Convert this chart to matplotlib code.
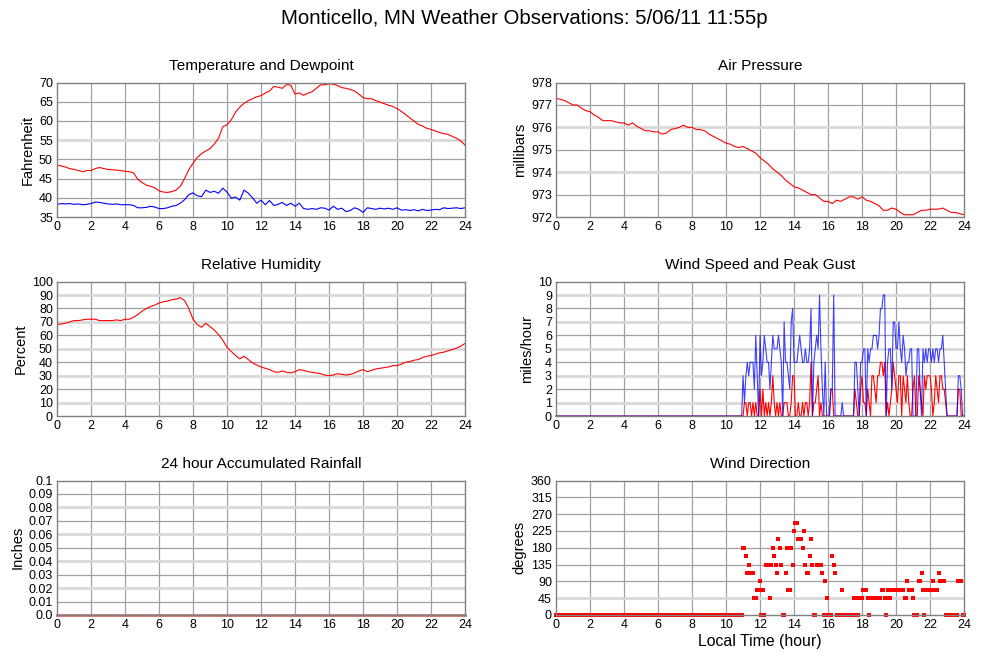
import numpy as np
import matplotlib
matplotlib.use("Agg")
import matplotlib.pyplot as plt

plt.rcParams['font.family'] = ['Liberation Sans', 'DejaVu Sans']

# temperature / dewpoint / pressure / humidity, every 15 minutes from 0 to 24 h
temp_f = [48.5, 48.3, 48.0, 47.6, 47.4, 47.1, 46.8, 47.1, 47.1, 47.6, 47.9, 47.6,
          47.4, 47.3, 47.2, 47.1, 46.9, 46.8, 46.5, 44.8, 44.0, 43.3, 43.0, 42.6,
          41.8, 41.5, 41.4, 41.6, 42.0, 43.0, 45.0, 47.3, 49.0, 50.5, 51.5, 52.2,
          52.8, 54.0, 55.5, 58.5, 59.0, 60.3, 62.3, 63.6, 64.6, 65.3, 65.8, 66.3,
          66.6, 67.3, 67.8, 69.0, 68.8, 68.5, 69.5, 69.3, 67.0, 67.3, 66.7, 67.2,
          67.6, 68.5, 69.4, 69.4, 69.7, 69.6, 69.2, 68.7, 68.5, 68.2, 67.8, 67.0,
          66.1, 65.8, 65.8, 65.3, 64.9, 64.5, 64.1, 63.8, 63.2, 62.5, 61.7, 60.8,
          60.0, 59.1, 58.7, 58.1, 57.8, 57.4, 57.0, 56.7, 56.5, 56.0, 55.5, 54.8,
          53.7]
dewpoint_f = [38.3, 38.5, 38.4, 38.5, 38.3, 38.4, 38.2, 38.3, 38.5, 38.9, 38.8, 38.6,
              38.4, 38.3, 38.4, 38.2, 38.2, 38.2, 38.0, 37.4, 37.4, 37.5, 37.8, 37.6,
              37.2, 37.2, 37.4, 37.8, 38.0, 38.6, 39.5, 40.8, 41.3, 40.5, 40.3, 42.0,
              41.4, 41.7, 41.2, 42.5, 41.5, 39.9, 40.2, 39.4, 42.0, 41.2, 40.0, 38.6,
              39.4, 38.2, 39.3, 38.0, 38.3, 38.8, 38.0, 38.6, 37.8, 38.6, 37.2, 37.0,
              37.2, 37.0, 37.4, 37.3, 36.8, 37.8, 37.0, 37.3, 36.4, 36.7, 37.4, 37.0,
              36.2, 37.4, 37.2, 37.0, 37.3, 37.1, 37.3, 37.0, 37.4, 36.8, 36.9, 36.7,
              36.9, 36.6, 37.0, 36.7, 36.8, 37.0, 36.9, 37.4, 37.2, 37.3, 37.4, 37.2,
              37.4]
pressure_mb = [977.3, 977.25, 977.2, 977.1, 977.0, 977.0, 976.85, 976.75, 976.7, 976.55,
               976.45, 976.3, 976.3, 976.3, 976.25, 976.2, 976.2, 976.1, 976.2, 976.05,
               975.95, 975.85, 975.85, 975.8, 975.8, 975.7, 975.75, 975.9, 975.95, 976.0,
               976.1, 976.0, 976.0, 975.9, 975.9, 975.85, 975.7, 975.6, 975.5, 975.4,
               975.3, 975.25, 975.15, 975.1, 975.15, 975.05, 974.95, 974.85, 974.65, 974.5,
               974.35, 974.15, 974.0, 973.85, 973.65, 973.5, 973.35, 973.3, 973.2, 973.1,
               973.0, 973.0, 972.85, 972.7, 972.7, 972.6, 972.75, 972.7, 972.8, 972.9,
               972.9, 972.8, 972.9, 972.75, 972.7, 972.6, 972.5, 972.3, 972.3, 972.4,
               972.35, 972.2, 972.1, 972.1, 972.1, 972.2, 972.3, 972.3, 972.35, 972.35,
               972.35, 972.4, 972.3, 972.2, 972.2, 972.15, 972.1]
humidity_pct = [68, 68.5, 69, 70, 71, 71, 71.5, 72, 72, 72, 71, 71,
                71, 71, 71.5, 71, 72, 72, 73.5, 75.5, 78, 80, 81.5, 82.5,
                84, 85, 85.5, 86.5, 87, 88, 86, 80, 72, 68, 66, 69,
                66.5, 64, 60.5, 56.5, 51, 48, 45, 42.5, 44.5, 42, 39.5, 38,
                36.5, 35.5, 34.5, 33, 32.5, 33.5, 32.5, 32, 33, 34.5, 34, 33,
                32.5, 32, 31.5, 30.5, 30, 30.5, 31.5, 31, 30.5, 31, 32, 33.5,
                34.5, 33, 34, 35, 35.5, 36, 36.5, 37.5, 37.5, 38.5, 40, 40.5,
                41.5, 42, 43.5, 44.5, 45, 46, 47, 47.5, 48.5, 49.5, 50.5, 52,
                54]

# rainfall, hourly
rain_in = [0.0] * 25

# wind, every 5 minutes; calm (0) until 11:00, values below from 11:00 to 24:00
calm_samples = 132
gust_mph = [3, 1, 3, 4, 3, 4, 4, 4, 2, 6, 3, 0,
            6, 3, 4, 6, 5, 4, 4, 2, 4, 6, 5, 5,
            5, 6, 5, 4, 0, 7, 4, 4, 3, 2, 7, 8,
            4, 4, 4, 5, 6, 5, 4, 4, 5, 4, 4, 5,
            8, 0, 4, 5, 6, 5, 9, 5, 2, 0, 4, 0,
            0, 0, 2, 2, 9, 0, 0, 0, 0, 0, 1, 0,
            0, 0, 0, 0, 0, 0, 0, 4, 4, 2, 0, 4,
            4, 5, 5, 0, 5, 4, 5, 5, 6, 6, 6, 5,
            6, 8, 8, 9, 9, 0, 4, 5, 5, 2, 7, 7,
            5, 5, 7, 5, 4, 6, 5, 3, 4, 4, 5, 5,
            0, 0, 0, 5, 5, 2, 0, 5, 4, 5, 4, 5,
            5, 4, 5, 4, 5, 5, 4, 5, 5, 6, 4, 2,
            0, 0, 0, 0, 0, 0, 0, 0, 3, 3, 2, 0,
            0]
speed_mph = [0, 1, 1, 0, 1, 1, 0, 1, 0, 1, 0, 0,
             2, 0, 2, 0, 1, 0, 1, 0, 1, 3, 1, 0,
             1, 0, 1, 0, 0, 1, 1, 1, 0, 0, 1, 3,
             3, 0, 0, 1, 0, 0, 1, 0, 1, 1, 0, 1,
             4, 0, 1, 1, 2, 3, 0, 1, 0, 0, 0, 0,
             0, 0, 2, 2, 0, 0, 0, 0, 0, 0, 0, 0,
             0, 0, 0, 0, 0, 0, 0, 2, 1, 0, 0, 2,
             3, 1, 1, 0, 2, 1, 0, 3, 3, 2, 1, 3,
             3, 4, 4, 3, 4, 0, 1, 0, 1, 2, 4, 3,
             2, 1, 3, 3, 0, 3, 2, 1, 3, 1, 0, 0,
             2, 3, 0, 0, 3, 2, 1, 0, 3, 2, 3, 3,
             3, 2, 0, 1, 3, 2, 1, 3, 3, 2, 2, 1,
             0, 0, 0, 0, 0, 0, 0, 0, 2, 2, 0, 0,
             0]
direction_deg = [180, 180, 157.5, 112.5, 135, 112.5, 112.5, 112.5, 45, 45, 67.5, 67.5,
                 90, 0, 67.5, 0, 135, 135, 135, 45, 135, 180, 157.5, 135,
                 112.5, 202.5, 180, 135, 0, 0, 112.5, 180, 67.5, 67.5, 180, 135,
                 225, 247.5, 247.5, 202.5, 202.5, 202.5, 180, 225, 135, 112.5, 112.5, 157.5,
                 202.5, 135, 0, 0, 135, 135, 135, 135, 112.5, 0, 90, 45,
                 0, 0, 0, 157.5, 135, 112.5, 0, 0, 0, 0, 67.5, 0,
                 0, 0, 0, 0, 0, 0, 45, 45, 0, 0, 45, 45,
                 45, 67.5, 67.5, 67.5, 45, 0, 45, 45, 45, 45, 45, 45,
                 45, 45, 67.5, 67.5, 45, 0, 67.5, 45, 45, 67.5, 67.5, 67.5,
                 67.5, 67.5, 67.5, 67.5, 67.5, 67.5, 45, 45, 90, 67.5, 67.5, 67.5,
                 45, 0, 0, 0, 90, 90, 112.5, 67.5, 0, 67.5, 67.5, 67.5,
                 67.5, 67.5, 90, 67.5, 67.5, 67.5, 112.5, 90, 90, 90, 90, 0,
                 0, 0, 0, 0, 0, 0, 0, 0, 90, 90, 90, 0,
                 0]

gust_all = np.concatenate([np.zeros(calm_samples), gust_mph])
speed_all = np.concatenate([np.zeros(calm_samples), speed_mph])
dir_all = np.concatenate([np.zeros(calm_samples), direction_deg])

t15 = np.linspace(0, 24, len(temp_f))
t5 = np.linspace(0, 24, len(gust_all))
t_rain = np.linspace(0, 24, len(rain_in))

fig = plt.figure(figsize=(9.99, 6.59), dpi=100)
fig.text(0.5245, 0.972, "Monticello, MN Weather Observations: 5/06/11 11:55p",
         ha="center", va="center", fontsize=14.7)

lefts = [0.0571, 0.5566]
bottoms = [0.6707, 0.3687, 0.0668]
w, h = 0.4084, 0.2040


def setup(ax, title, ylabel, yticks, light=()):
    ax.set_xlim(0, 24)
    ax.set_ylim(yticks[0], yticks[-1])
    ax.set_xticks(range(0, 25, 2))
    ax.set_yticks(yticks)
    ax.tick_params(labelsize=9, length=0, pad=3)
    for x in range(2, 24, 2):
        ax.axvline(x, color="#a0a0a0", lw=0.9, zorder=0)
    # some horizontal grid lines come out pale in the original rendering
    for y in yticks[1:-1]:
        if any(abs(y - v) < 1e-9 for v in light):
            ax.axhline(y, color="#d8d8d8", lw=2.0, zorder=0)
        else:
            ax.axhline(y, color="#a0a0a0", lw=0.9, zorder=0)
    for s in ax.spines.values():
        s.set_color("#808080")
        s.set_linewidth(1.0)
    ax.set_title(title, fontsize=11.1, pad=9)
    ax.set_ylabel(ylabel, fontsize=10.5, labelpad=3)


ax1 = fig.add_axes([lefts[0], bottoms[0], w, h])
setup(ax1, "Temperature and Dewpoint", "Fahrenheit", list(range(35, 71, 5)), light=[55])
ax1.plot(t15, temp_f, color="#ff0000", lw=0.8)
ax1.plot(t15, dewpoint_f, color="#0000ff", lw=0.8)

ax2 = fig.add_axes([lefts[1], bottoms[0], w, h])
setup(ax2, "Air Pressure", "millibars", list(range(972, 979)), light=[976, 974])
ax2.plot(t15, pressure_mb, color="#ff0000", lw=0.8)

ax3 = fig.add_axes([lefts[0], bottoms[1], w, h])
setup(ax3, "Relative Humidity", "Percent", list(range(0, 101, 10)),
      light=[90, 70, 50, 30, 10])
ax3.plot(t15, humidity_pct, color="#ff0000", lw=0.8)

ax4 = fig.add_axes([lefts[1], bottoms[1], w, h])
setup(ax4, "Wind Speed and Peak Gust", "miles/hour", list(range(0, 11)),
      light=[9, 7, 5, 3, 1])
ax4.plot(t5, speed_all, color="#ff0000", lw=0.8, clip_on=False)
ax4.plot(t5, gust_all, color="#0000ff", lw=0.8, alpha=0.75, clip_on=False)

ax5 = fig.add_axes([lefts[0], bottoms[2], w, h])
rain_ticks = [round(0.01 * i, 2) for i in range(11)]
setup(ax5, "24 hour Accumulated Rainfall", "Inches", rain_ticks,
      light=[0.08, 0.06, 0.04, 0.02])
ax5.set_yticklabels(["0.0"] + ["{:g}".format(v) for v in rain_ticks[1:]])
ax5.plot(t_rain, rain_in, color="#d07070", lw=2.0, clip_on=False)

ax6 = fig.add_axes([lefts[1], bottoms[2], w, h])
setup(ax6, "Wind Direction", "degrees", list(range(0, 361, 45)), light=[45])
ax6.plot(t5, dir_all, "s", color="#ff0000", ms=2.5, mew=0, clip_on=False)
ax6.set_xlabel("Local Time (hour)", fontsize=11.4, labelpad=2)

fig.savefig("out.png", dpi=100)
